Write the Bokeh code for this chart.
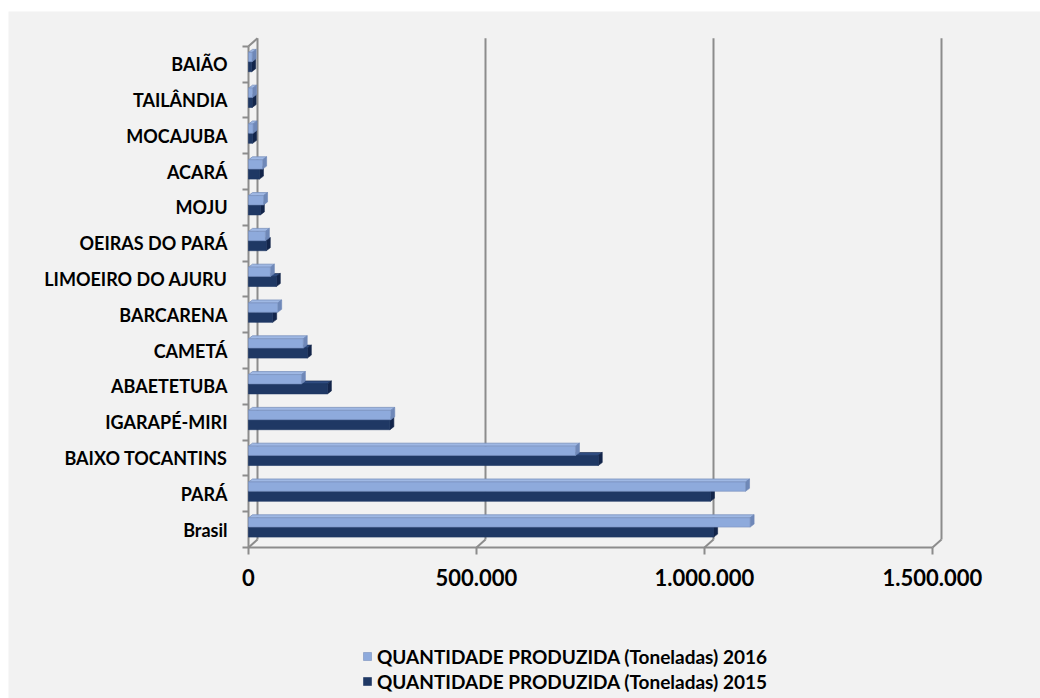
from bokeh.plotting import figure
from bokeh.models import (Range1d, FixedTicker, Legend, LegendItem, ColumnDataSource)
from bokeh.embed import file_html
from bokeh.resources import INLINE

# ---------------- data ----------------
categories = ["Brasil", "PARÁ", "BAIXO TOCANTINS", "IGARAPÉ-MIRI", "ABAETETUBA",
              "CAMETÁ", "BARCARENA", "LIMOEIRO DO AJURU", "OEIRAS DO PARÁ", "MOJU",
              "ACARÁ", "MOCAJUBA", "TAILÂNDIA", "BAIÃO"]
q2016 = [1100000, 1090000, 717000, 312000, 116000, 120000, 64000, 48000,
         37000, 33000, 31000, 10000, 9000, 8000]
q2015 = [1020000, 1013000, 767000, 310000, 173000, 129000, 53000, 61000,
         39000, 26000, 24000, 9000, 8000, 7000]
x_ticks = [0, 500000, 1000000, 1500000]
x_tick_labels = ["0", "500.000", "1.000.000", "1.500.000"]
label_2016 = "QUANTIDADE PRODUZIDA (Toneladas) 2016"
label_2015 = "QUANTIDADE PRODUZIDA (Toneladas) 2015"

# ---------------- style ----------------
BG = "#f2f2f2"
GRID = "#8c8c8c"
LIGHT, LIGHT_TOP, LIGHT_SIDE, LIGHT_EDGE = "#8eaadc", "#9fb8e4", "#6f88b8", "#7990bd"
DARK, DARK_TOP, DARK_SIDE = "#1f3864", "#2f4c80", "#13254a"
FONT = "Lato"

N = len(categories)
PX_X = 1500000 / 684.0        # data units per pixel (x)
PX_Y = 1 / 35.8               # data units per pixel (y)
DXW, DYW = 9 * PX_X, 8 * PX_Y  # wall depth
DXB, DYB = 4 * PX_X, 3 * PX_Y  # bar depth

# bar slots within a category band
DARK_Y0, DARK_Y1 = 0.29, 0.57
LIGHT_Y0, LIGHT_Y1 = 0.57, 0.83

# the frame fills the whole figure; both axes are pinned at data 0
FRAME_W, FRAME_H = 1032, 687
ORIGIN_X, ORIGIN_Y = 240, 536          # pixel offset of data (0, 0) inside the frame
x_start = -ORIGIN_X * PX_X
x_end = x_start + FRAME_W * PX_X
y_end = ORIGIN_Y * PX_Y
y_start = y_end - FRAME_H * PX_Y

p = figure(frame_width=FRAME_W, frame_height=FRAME_H,
           x_range=Range1d(x_start, x_end), y_range=Range1d(y_start, y_end),
           output_backend="svg", toolbar_location=None,
           background_fill_color=BG, border_fill_color=BG,
           min_border_left=0, min_border_right=0, min_border_top=0, min_border_bottom=0)
p.margin = (11, 0, 0, 8)
p.outline_line_color = None
p.grid.visible = False

# ---------- walls (3D frame) ----------
x0s, y0s, x1s, y1s = [], [], [], []
x0s.append(x_ticks[0]); y0s.append(0); x1s.append(x_ticks[-1]); y1s.append(0)
for t in x_ticks:
    x0s.append(t); y0s.append(0); x1s.append(t + DXW); y1s.append(DYW)
    if t != x_ticks[0]:
        x0s.append(t + DXW); y0s.append(DYW); x1s.append(t + DXW); y1s.append(N + DYW)
x0s += [0, DXW, 0]; y0s += [0, DYW, N]; x1s += [0, DXW, DXW]; y1s += [N, N + DYW, N + DYW]
p.segment(x0=x0s, y0=y0s, x1=x1s, y1=y1s, line_color=GRID, line_width=2)

# ---------- bars ----------
idx = list(range(N))


def side_faces(vals, y0, y1, dx, dy):
    xs = [[v, v, v + dx, v + dx] for v in vals]
    ys = [[i + y0, i + y1, i + y1 + dy, i + y0 + dy] for i, v in zip(idx, vals)]
    return xs, ys


def top_faces(vals, y1, dx, dy):
    xs = [[0, v, v + dx, dx] for v in vals]
    ys = [[i + y1, i + y1, i + y1 + dy, i + y1 + dy] for i, v in zip(idx, vals)]
    return xs, ys


txs, tys = top_faces(q2015, DARK_Y1, DXB, DYB)
p.patches(txs, tys, fill_color=DARK_TOP, line_color=DARK_SIDE, line_width=0.6)
sxs, sys_ = side_faces(q2015, DARK_Y0, DARK_Y1, DXB, DYB)
p.patches(sxs, sys_, fill_color=DARK_SIDE, line_color=DARK_SIDE, line_width=0.6)
src15 = ColumnDataSource(dict(y=[i + (DARK_Y0 + DARK_Y1) / 2 for i in idx], right=q2015))
r15 = p.hbar(y="y", right="right", left=0, height=DARK_Y1 - DARK_Y0, source=src15,
             fill_color=DARK, line_color=DARK, line_width=0.6)

txs, tys = top_faces(q2016, LIGHT_Y1, DXB, DYB)
p.patches(txs, tys, fill_color=LIGHT_TOP, line_color=LIGHT_EDGE, line_width=0.8)
sxs, sys_ = side_faces(q2016, LIGHT_Y0, LIGHT_Y1, DXB, DYB)
p.patches(sxs, sys_, fill_color=LIGHT_SIDE, line_color=LIGHT_SIDE, line_width=0.6)
src16 = ColumnDataSource(dict(y=[i + (LIGHT_Y0 + LIGHT_Y1) / 2 for i in idx], right=q2016))
r16 = p.hbar(y="y", right="right", left=0, height=LIGHT_Y1 - LIGHT_Y0, source=src16,
             fill_color=LIGHT, line_color=LIGHT_EDGE, line_width=0.6)

# ---------- axes ----------
xa = p.xaxis[0]
xa.fixed_location = 0
xa.ticker = FixedTicker(ticks=x_ticks)
xa.major_label_overrides = {t: s for t, s in zip(x_ticks, x_tick_labels)}
xa.axis_line_color = None
xa.major_tick_in = 0
xa.major_tick_out = 7
xa.major_tick_line_color = GRID
xa.major_tick_line_width = 2
xa.minor_tick_line_color = None
xa.major_label_standoff = 14
xa.major_label_text_font = FONT
xa.major_label_text_font_style = "bold"
xa.major_label_text_font_size = "22px"
xa.major_label_text_color = "#000000"

ya = p.yaxis[0]
ya.fixed_location = 0
centers = [i + 0.5 for i in idx]
ya.ticker = FixedTicker(ticks=centers, minor_ticks=list(range(N + 1)))
ya.major_label_overrides = {c: s for c, s in zip(centers, categories)}
ya.axis_line_color = None
ya.major_tick_line_color = None
ya.minor_tick_in = 0
ya.minor_tick_out = 6
ya.minor_tick_line_color = GRID
ya.minor_tick_line_width = 2
ya.major_label_standoff = 15
ya.major_label_text_font = FONT
ya.major_label_text_font_style = "bold"
ya.major_label_text_font_size = "18px"
ya.major_label_text_color = "#000000"

# ---------- legend ----------
legend = Legend(items=[LegendItem(label=label_2016, renderers=[r16]),
                       LegendItem(label=label_2015, renderers=[r15])],
                location=(354, 5), orientation="vertical",
                glyph_width=10, glyph_height=10, label_height=24, spacing=1,
                padding=0, margin=0, label_standoff=5,
                label_text_font=FONT, label_text_font_style="bold",
                label_text_font_size="19px", label_text_color="#000000",
                background_fill_alpha=0, border_line_color=None)
p.add_layout(legend, "center")

open("out.html", "w").write(file_html(p, INLINE))
